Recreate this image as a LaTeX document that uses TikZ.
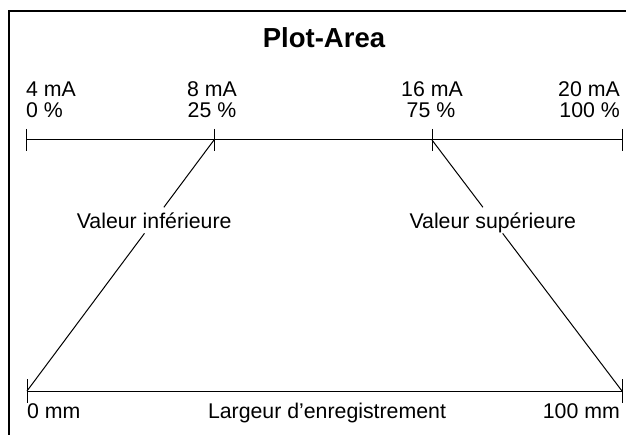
\documentclass[tikz,border=0pt]{standalone}
\usepackage{fontspec}
\setmainfont{Liberation Sans}
\usetikzlibrary{calc}
\tikzset{
  lbl/.style={font=\fontsize{21.3}{23}\selectfont, inner sep=0pt},
  cut/.style={font=\fontsize{21.3}{23}\selectfont, inner sep=5pt, text depth=0pt},
  ttl/.style={font=\fontsize{27.5}{30}\selectfont\bfseries, inner sep=0pt},
  ln/.style={line width=1pt, black},
  frame/.style={line width=1.3pt, black}
}
\begin{document}
\begin{tikzpicture}[x=1pt,y=-1pt]
\useasboundingbox (0,0) rectangle (626,435);
\draw[frame] (9,435) -- (9,11) -- (626,11);
\node[ttl, anchor=base] (title) at (324,48) {Plot-Area};
% top axis points
\coordinate (t0) at (26,140);
\coordinate (t25) at (214,140);
\coordinate (t75) at (432,140);
\coordinate (t100) at (622,140);
\coordinate (b0) at (27,391);
\coordinate (b100) at (622,391);
\draw[ln] (t0) -- (t100);
\foreach \p in {t0,t25,t75,t100} \draw[ln] ($(\p)+(0,-11)$) -- ($(\p)+(0,11)$);
\draw[ln] (b0) -- (b100);
\foreach \p in {b0,b100} \draw[ln] ($(\p)+(0,-12)$) -- ($(\p)+(0,12)$);
% top labels
\node[lbl, anchor=base west] (ma4) at (26,97) {4 mA};
\node[lbl, anchor=base west] (p0) at (26,118) {0 \%};
\node[lbl, anchor=base] (ma8) at (212,97) {8 mA};
\node[lbl, anchor=base] (p25) at (212,118) {25 \%};
\node[lbl, anchor=base] (ma16) at (432,97) {16 mA};
\node[lbl, anchor=base] (p75) at (431,118) {75 \%};
\node[lbl, anchor=base east] (ma20) at (620,97) {20 mA};
\node[lbl, anchor=base east] (p100) at (620,118) {100 \%};
% slanted lines with labels
\node[cut] (vi) at ($(t25)!0.32!(b0)$) {Valeur inférieure};
\node[cut] (vs) at ($(t75)!0.32!(b100)$) {Valeur supérieure};
\draw[ln] (t25) -- (vi);
\draw[ln] (vi) -- (b0);
\draw[ln] (t75) -- (vs);
\draw[ln] (vs) -- (b100);
% bottom labels
\node[lbl, anchor=base west] (mm0) at (27,418) {0 mm};
\node[lbl, anchor=base] (larg) at (327,418) {Largeur d’enregistrement};
\node[lbl, anchor=base east] (mm100) at (620,418) {100 mm};
\end{tikzpicture}
\end{document}
